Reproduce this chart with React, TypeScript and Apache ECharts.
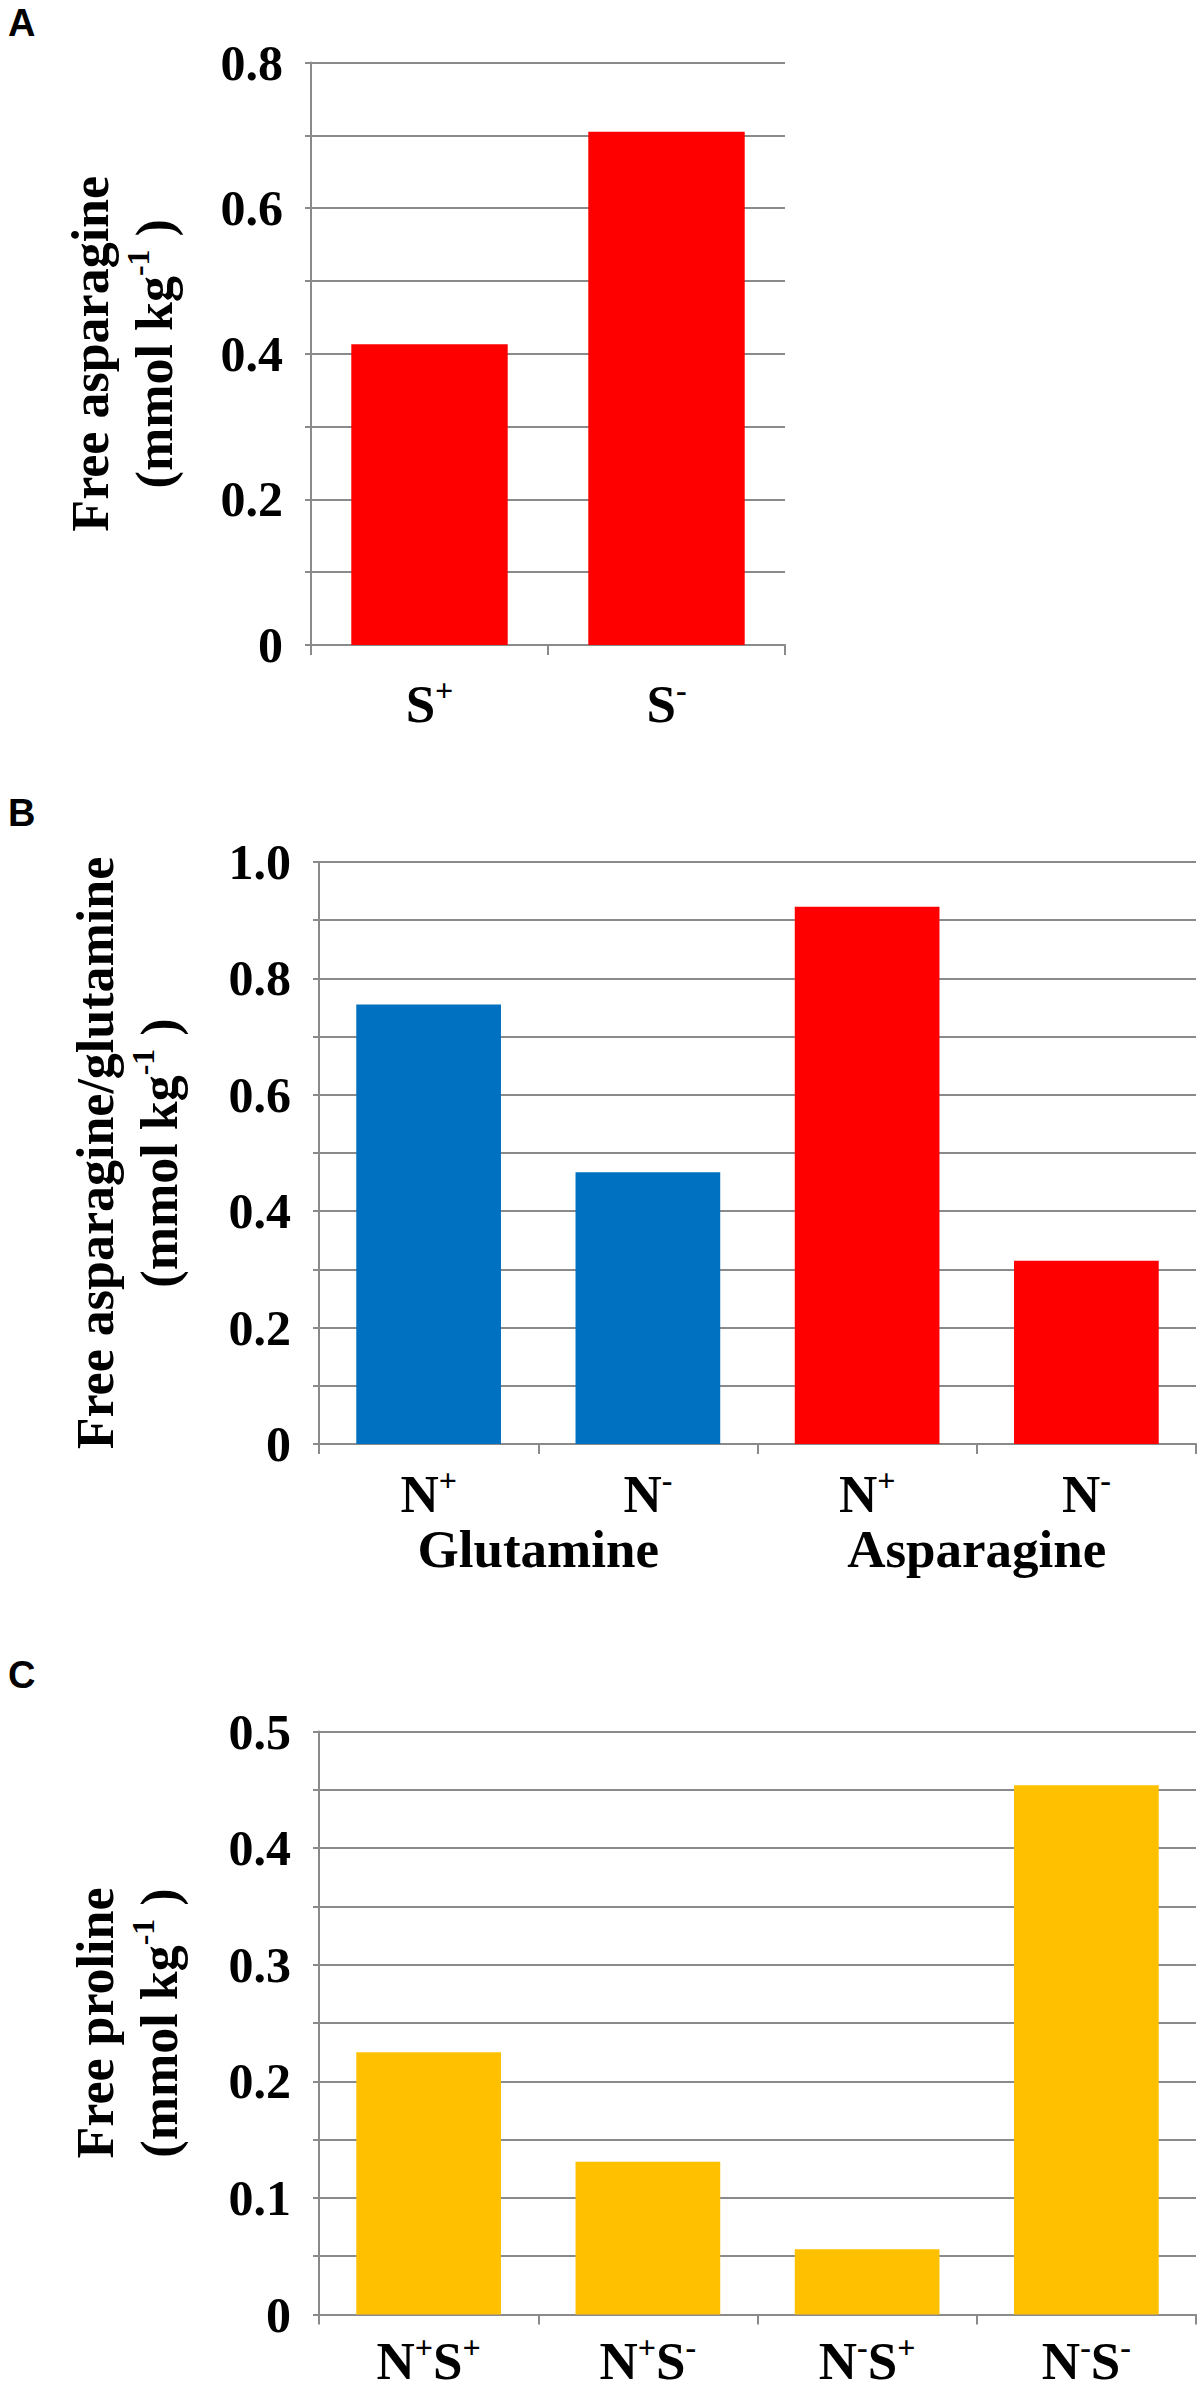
import React, { useEffect, useRef } from 'react';
import * as echarts from 'echarts';

// ---------------- data ----------------
const panelLetters = ['A', 'B', 'C'];

const catsA = ['S+', 'S-'];
const valsA = [0.413, 0.705];
const titleA = 'Free asparagine';

const catsB = ['N+', 'N-', 'N+', 'N-'];
const groupsB = ['Glutamine', 'Asparagine'];
const valsB = [0.755, 0.467, 0.923, 0.315];
const groupOfB = [0, 0, 1, 1];
const titleB = 'Free asparagine/glutamine';

const catsC = ['N+S+', 'N+S-', 'N-S+', 'N-S-'];
const valsC = [0.225, 0.131, 0.056, 0.454];
const titleC = 'Free proline';

const unitPre = '(mmol kg';
const unitSup = '-1';
const unitPost = ' )';

const RED = '#FF0000';
const BLUE = '#0070C0';
const GOLD = '#FFC000';
const groupColorsB = [BLUE, RED];

// ---------------- style ----------------
const SERIF = "'Liberation Serif', 'Times New Roman', serif";
const SANS = "'Liberation Sans', Arial, sans-serif";
const GRAY = '#8a8a8a';

const richLabel = {
  b: { fontFamily: SERIF, fontWeight: 'bold', fontSize: 53, lineHeight: 60, color: '#000' },
  sup: { fontFamily: SERIF, fontWeight: 'bold', fontSize: 32, lineHeight: 34, verticalAlign: 'top', color: '#000' },
};

function toRich(s: string): string {
  let out = '';
  for (const ch of s) {
    out += ch === '+' || ch === '-' ? `{sup|${ch}}` : `{b|${ch}}`;
  }
  return out;
}

function yAxis(gridIndex: number, max: number, interval: number, step: number, title: string, gap: number) {
  return {
    type: 'value',
    gridIndex,
    min: 0,
    max,
    interval,
    axisLine: { show: true, lineStyle: { color: GRAY, width: 2 } },
    axisTick: { show: true, length: 6, lineStyle: { color: GRAY, width: 2 } },
    splitLine: { show: true, lineStyle: { color: GRAY, width: 2 } },
    axisLabel: {
      margin: 28,
      fontFamily: SERIF,
      fontWeight: 'bold',
      fontSize: 50,
      color: '#000',
      formatter: (v: number) => {
        const k = Math.round(v / interval);
        if (k % step !== 0) return '';
        return k === 0 ? '0' : v.toFixed(1);
      },
    },
    name: `${title}\n${unitPre}{sup|${unitSup}}${unitPost}`,
    nameLocation: 'middle',
    nameRotate: 90,
    nameGap: gap,
    nameTextStyle: {
      fontFamily: SERIF,
      fontWeight: 'bold',
      fontSize: 52,
      lineHeight: 64,
      color: '#000',
      rich: {
        sup: { fontFamily: SERIF, fontWeight: 'bold', fontSize: 32, lineHeight: 36, verticalAlign: 'top', color: '#000' },
      },
    },
  };
}

function xAxis(gridIndex: number, cats: string[], margin: number) {
  return {
    type: 'category',
    gridIndex,
    data: cats,
    axisLine: { show: true, lineStyle: { color: GRAY, width: 2 } },
    axisTick: { show: true, length: 10, lineStyle: { color: GRAY, width: 2 } },
    splitLine: { show: false },
    axisLabel: {
      interval: 0,
      margin,
      formatter: (v: string) => toRich(v),
      rich: richLabel,
    },
  };
}

export default function App() {
  const ref = useRef<HTMLDivElement>(null);

  useEffect(() => {
    if (!ref.current) return;
    const chart = echarts.init(ref.current, undefined, { renderer: 'svg' });
    const option = {
      animation: false,
      backgroundColor: '#fff',
      grid: [
        { left: 311, top: 62.5, width: 474, height: 582.5 },
        { left: 319, top: 862, width: 877, height: 582 },
        { left: 319, top: 1731.5, width: 877, height: 583 },
      ],
      xAxis: [
        xAxis(0, catsA, 29),
        xAxis(1, catsB, 20),
        {
          type: 'category',
          gridIndex: 1,
          position: 'bottom',
          data: groupsB,
          axisLine: { show: false },
          axisTick: { show: false },
          splitLine: { show: false },
          axisLabel: {
            interval: 0,
            margin: 75,
            fontFamily: SERIF,
            fontWeight: 'bold',
            fontSize: 53,
            lineHeight: 60,
            color: '#000',
          },
        },
        xAxis(2, catsC, 16),
      ],
      yAxis: [
        yAxis(0, 0.8, 0.1, 2, titleA, 125),
        yAxis(1, 1.0, 0.1, 2, titleB, 128),
        yAxis(2, 0.5, 0.05, 2, titleC, 128),
      ],
      series: [
        {
          type: 'bar',
          xAxisIndex: 0,
          yAxisIndex: 0,
          data: valsA,
          itemStyle: { color: RED },
          barCategoryGap: '34%',
        },
        {
          type: 'bar',
          xAxisIndex: 1,
          yAxisIndex: 1,
          data: valsB.map((v, i) => ({ value: v, itemStyle: { color: groupColorsB[groupOfB[i]] } })),
          barCategoryGap: '34%',
        },
        {
          type: 'bar',
          xAxisIndex: 3,
          yAxisIndex: 2,
          data: valsC,
          itemStyle: { color: GOLD },
          barCategoryGap: '34%',
        },
      ],
      graphic: panelLetters.map((t, i) => ({
        type: 'text',
        x: 8,
        y: [4, 794, 1656][i],
        style: {
          text: t,
          fontFamily: SANS,
          fontWeight: 'bold',
          fontSize: 38,
          fill: '#000',
          verticalAlign: 'top',
        },
      })),
    };
    chart.setOption(option as any);
    return () => chart.dispose();
  }, []);

  return (
    <>
      <style>{'body{margin:0}'}</style>
      <div ref={ref} style={{ width: 1200, height: 2388 }} />
    </>
  );
}
